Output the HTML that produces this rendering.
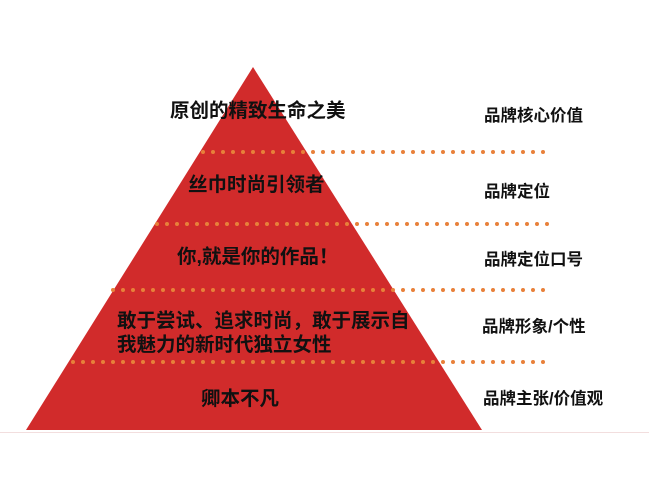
<!DOCTYPE html>
<html><head><meta charset="utf-8"><style>
html,body{margin:0;padding:0;background:#fff;width:649px;height:487px;overflow:hidden}
svg{display:block}
text{font-family:"Liberation Sans","Noto Sans CJK SC",sans-serif;font-weight:bold;fill:#111}
</style></head><body>
<svg width="649" height="487" viewBox="0 0 649 487">
<line x1="0" y1="432.5" x2="649" y2="432.5" stroke="#f2dede" stroke-width="1"/>
<polygon points="253,67 482,430 26,430" fill="#d12b2b"/>
<g stroke="#e8803a" stroke-width="4" stroke-linecap="round" stroke-dasharray="0 10">
<line x1="203" y1="152" x2="546" y2="152"/>
<line x1="157" y1="224" x2="548" y2="224"/>
<line x1="113" y1="290" x2="546" y2="290"/>
<line x1="73" y1="362" x2="546" y2="362"/>
</g>
<g font-size="19.5">
<text x="170" y="117">原创的精致生命之美</text>
<text x="188" y="191">丝巾时尚引领者</text>
<text x="177" y="263">你,就是你的作品！</text>
<text x="117" y="327">敢于尝试、追求时尚，敢于展示自</text>
<text x="117" y="351">我魅力的新时代独立女性</text>
<text x="201" y="405">卿本不凡</text>
</g>
<g font-size="16.5">
<text x="484" y="121">品牌核心价值</text>
<text x="484" y="197">品牌定位</text>
<text x="484" y="265">品牌定位口号</text>
<text x="482" y="332">品牌形象/个性</text>
<text x="483" y="404">品牌主张/价值观</text>
</g>
</svg>
</body></html>
